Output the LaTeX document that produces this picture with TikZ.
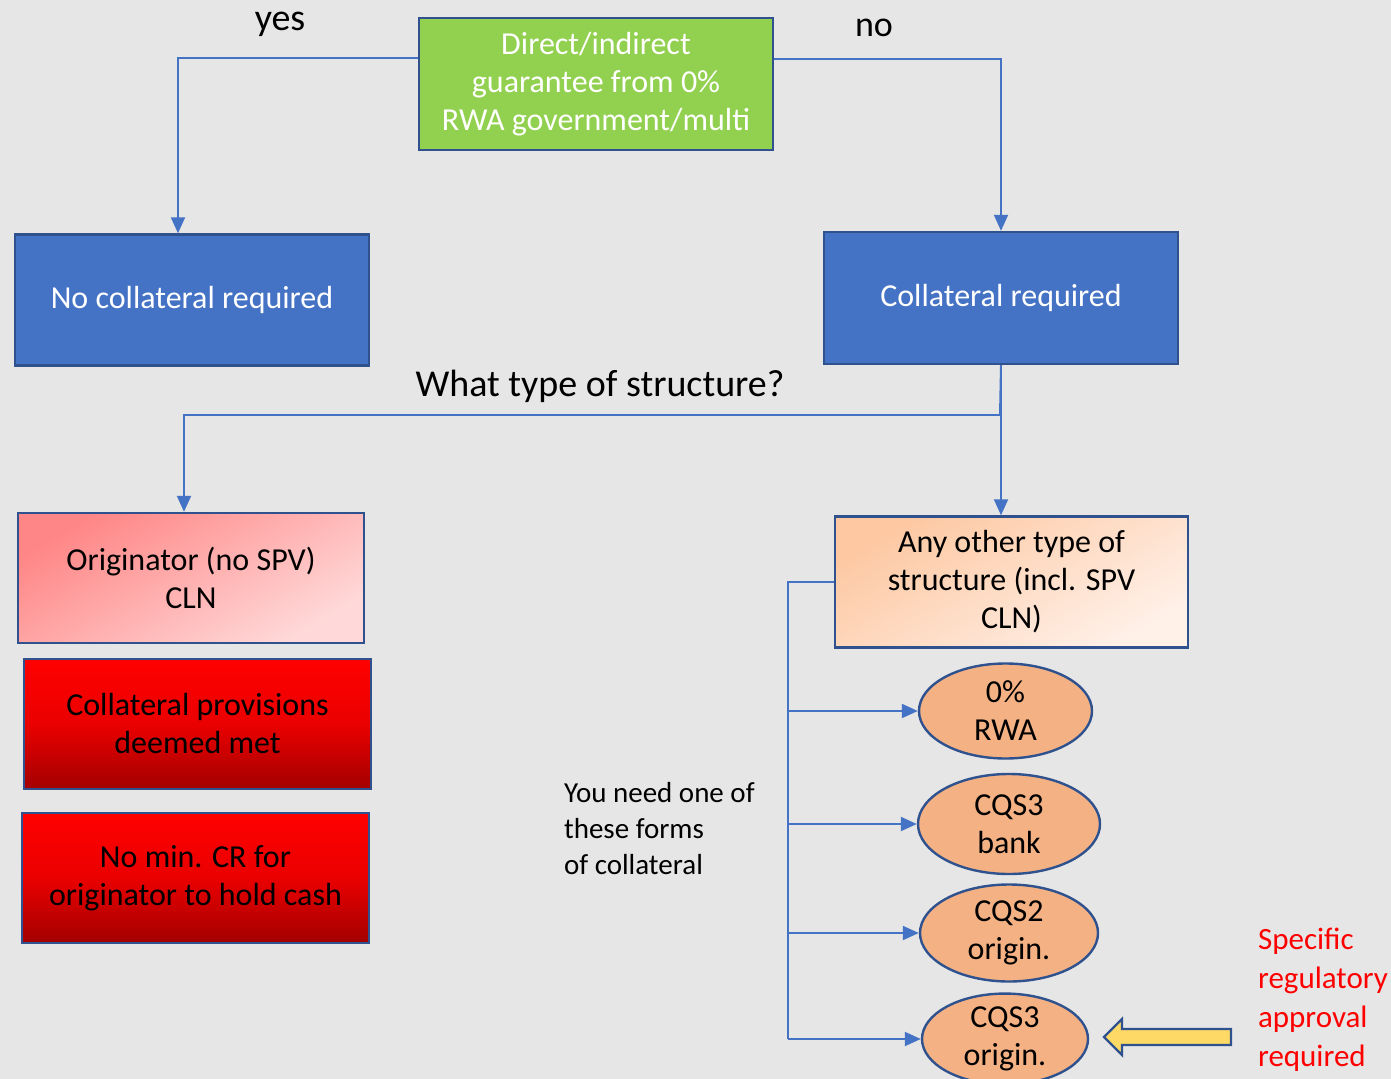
\documentclass[tikz,border=0pt]{standalone}
\usepackage{fontspec}
\setmainfont{Carlito}
\usepackage{tikz}
\usetikzlibrary{arrows.meta,shapes.geometric,positioning,backgrounds}
\definecolor{bgGray}{HTML}{E6E6E6}
\definecolor{linkBlue}{HTML}{4472C4}
\definecolor{edgeBlue}{HTML}{2F528F}
\definecolor{boxGreen}{HTML}{92D050}
\definecolor{ovalOrange}{HTML}{F4B183}
\definecolor{pinkA}{HTML}{FF8686}
\definecolor{pinkB}{HTML}{FFD9D9}
\definecolor{peachA}{HTML}{FDC8A2}
\definecolor{peachB}{HTML}{FFF0E8}
\definecolor{redA}{HTML}{FF0000}
\definecolor{redB}{HTML}{A30000}
\definecolor{arrowYellow}{HTML}{FFD966}

\begin{document}
\begin{tikzpicture}[x=0.5pt,y=-0.5pt,
  link/.style={draw=linkBlue,line width=1pt,-{Triangle[length=8pt,width=7pt]}},
  wire/.style={draw=linkBlue,line width=1pt},
  box/.style={rectangle,draw=edgeBlue,line width=1.2pt,align=center,inner sep=0pt,
    font=\fontsize{16}{19}\selectfont},
  oval/.style={ellipse,draw=edgeBlue,line width=1.2pt,fill=ovalOrange,align=center,
    inner sep=0pt,font=\fontsize{16}{19}\selectfont},
  redbox/.style={box,top color=redA,bottom color=redB,middle color=redA!92!black}]
\path[use as bounding box,fill=bgGray] (0,0) rectangle (1391,1079);

\node[box,fill=boxGreen,text=white,minimum width=177pt,minimum height=66pt] (green) at (596,84)
  {Direct/indirect\\guarantee from 0\%\\RWA government/multi};
\node[box,fill=linkBlue,text=white,minimum width=177pt,minimum height=65.5pt] (nocol) at (192,300)
  {No collateral required};
\node[box,fill=linkBlue,text=white,minimum width=177pt,minimum height=66pt] (coll) at (1001,298)
  {Collateral required};
\node[font=\fontsize{19}{23}\selectfont] (yes) at (280,24) {yes};
\node[font=\fontsize{18}{22}\selectfont] (no) at (874,28) {no};
\node[font=\fontsize{19}{23}\selectfont] (question) at (600,386) {What type of structure?};

\node[box,top color=pinkA,bottom color=pinkB,shading angle=30,minimum width=173pt,minimum height=65pt] (orig) at (191,578)
  {Originator (no SPV)\\CLN};
\node[redbox,minimum width=173.5pt,minimum height=65pt] (met) at (197.5,724)
  {Collateral provisions\\deemed met};
\node[redbox,minimum width=173.5pt,minimum height=65pt] (mincr) at (195.5,878)
  {No min. CR for\\originator to hold cash};

\node[box,top color=peachA,bottom color=peachB,shading angle=30,minimum width=176.5pt,minimum height=65.5pt] (other) at (1011.5,582)
  {Any other type of\\structure (incl. SPV\\CLN)};
\node[oval,minimum width=86.5pt,minimum height=47.5pt] (e1) at (1005.5,711) {0\%\\RWA};
\node[oval,minimum width=91pt,minimum height=50pt] (e2) at (1009,824) {CQS3\\bank};
\node[oval,minimum width=89pt,minimum height=48.5pt] (e3) at (1009,933) {CQS2\\origin.};
\node[oval,minimum width=83pt,minimum height=44pt] (e4) at (1005,1039) {CQS3\\origin.};

\node[anchor=west,align=left,font=\fontsize{14.5}{18}\selectfont] (need) at (557,829)
  {You need one of\\these forms\\of collateral};
\node[anchor=west,align=left,text=red,font=\fontsize{15.5}{19.5}\selectfont] (approval) at (1251,1000)
  {Specific\\regulatory\\approval\\required};

\coordinate (split) at (1000,415);
\coordinate (bus) at (788,1039);

\draw[link] ([yshift=13pt]green.west) -| ([xshift=-7pt]nocol.north);
\draw[link] ([yshift=12.5pt]green.east) -| (coll.north);
\draw[link] (coll.south) -- (coll.south |- other.north);
\draw[wire] (coll.south) -- (split);
\draw[link] (split) -| ([xshift=-3.5pt]orig.north);
\draw[wire] (other.west) -| (bus);
\foreach \e in {e1,e2,e3,e4}
  \draw[link] (bus |- \e) -- (\e);

\draw[fill=arrowYellow,draw=edgeBlue,line width=1.2pt]
  (1231,1029) -- (1122,1029) -- (1122,1019) -- (1104,1037) -- (1122,1055)
  -- (1122,1045) -- (1231,1045) -- cycle;
\end{tikzpicture}
\end{document}
